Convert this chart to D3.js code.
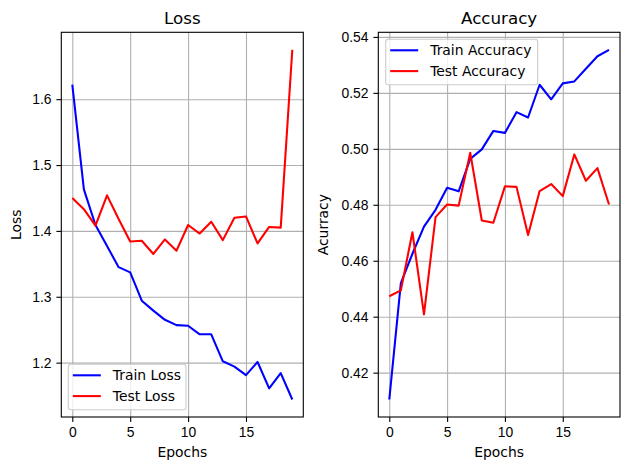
<!DOCTYPE html>
<html>
<head>
<meta charset="utf-8">
<script src="https://cdn.jsdelivr.net/npm/d3@7"></script>
<style>
  body { margin: 0; background: #fff; }
  svg { font-family: 'DejaVu Sans', sans-serif; }
  .grid line { stroke: #b0b0b0; stroke-width: 1.1; }
  .grid path { display: none; }
  .ax path, .ax line { stroke: #000; stroke-width: 1.1; }
  .ax text { font-size: 13.9px; fill: #000; }
</style>
</head>
<body>
<svg id="fig"></svg>
<script>
const W = 629, H = 470;

// epochs
const epochs = [0,1,2,3,4,5,6,7,8,9,10,11,12,13,14,15,16,17,18,19];
// loss
const trainLoss = [1.622,1.463,1.409,1.377,1.345,1.337,1.294,1.279,1.265,1.257,1.256,1.243,1.243,1.202,1.194,1.181,1.201,1.161,1.184,1.144];
const testLoss  = [1.450,1.433,1.408,1.454,1.418,1.384,1.385,1.365,1.387,1.370,1.409,1.396,1.414,1.386,1.420,1.422,1.381,1.406,1.405,1.675];
// accuracy
const trainAcc = [0.4104,0.4520,0.4625,0.4722,0.4782,0.4861,0.4848,0.4964,0.4998,0.5064,0.5057,0.5131,0.5112,0.5229,0.5177,0.5234,0.5241,0.5286,0.5331,0.5354];
const testAcc  = [0.4473,0.4494,0.4702,0.4408,0.4756,0.4801,0.4797,0.4986,0.4744,0.4736,0.4866,0.4864,0.4692,0.4849,0.4874,0.4831,0.4980,0.4886,0.4931,0.4801];

const xTicks = [0, 5, 10, 15];
const lossTicks = [1.2, 1.3, 1.4, 1.5, 1.6];
const accTicks = [0.42, 0.44, 0.46, 0.48, 0.50, 0.52, 0.54];

const svg = d3.select('#fig').attr('width', W).attr('height', H);

// matplotlib style 5% padding
function padded(arr) {
  let lo = d3.min(arr), hi = d3.max(arr), m = (hi - lo) * 0.05;
  return [lo - m, hi + m];
}

function panel(opt) {
  const x = d3.scaleLinear().domain(padded(epochs)).range([opt.left, opt.right]);
  const y = d3.scaleLinear().domain(padded(opt.series[0].v.concat(opt.series[1].v))).range([opt.bottom, opt.top]);

  // grid
  svg.append('g').attr('class', 'grid')
    .attr('transform', 'translate(0,' + opt.bottom + ')')
    .call(d3.axisBottom(x).tickValues(xTicks).tickSize(-(opt.bottom - opt.top)).tickFormat(''));
  svg.append('g').attr('class', 'grid')
    .attr('transform', 'translate(' + opt.left + ',0)')
    .call(d3.axisLeft(y).tickValues(opt.yTicks).tickSize(-(opt.right - opt.left)).tickFormat(''));

  // lines
  const line = v => d3.line().x((d, i) => x(epochs[i])).y(d => y(d))(v);
  opt.series.forEach(s => {
    svg.append('path')
      .attr('d', line(s.v))
      .attr('fill', 'none')
      .attr('stroke', s.c)
      .attr('stroke-width', 2.08)
      .attr('stroke-linejoin', 'round');
  });

  // frame
  svg.append('rect')
    .attr('x', opt.left).attr('y', opt.top)
    .attr('width', opt.right - opt.left).attr('height', opt.bottom - opt.top)
    .attr('fill', 'none').attr('stroke', '#000').attr('stroke-width', 1.1);

  // axes
  const ax = svg.append('g').attr('class', 'ax')
    .attr('transform', 'translate(0,' + opt.bottom + ')')
    .call(d3.axisBottom(x).tickValues(xTicks).tickSize(4.9).tickPadding(4.9).tickFormat(d3.format('d')));
  ax.select('.domain').remove();
  const ay = svg.append('g').attr('class', 'ax')
    .attr('transform', 'translate(' + opt.left + ',0)')
    .call(d3.axisLeft(y).tickValues(opt.yTicks).tickSize(4.9).tickPadding(4.9).tickFormat(opt.fmt));
  ay.select('.domain').remove();

  // title and labels
  svg.append('text')
    .attr('x', (opt.left + opt.right) / 2).attr('y', opt.top - 8)
    .attr('text-anchor', 'middle').attr('font-size', '16.7px')
    .text(opt.title);
  svg.append('text')
    .attr('x', (opt.left + opt.right) / 2).attr('y', 457)
    .attr('text-anchor', 'middle').attr('font-size', '13.9px')
    .text('Epochs');
  svg.append('text')
    .attr('transform', 'translate(' + opt.ylabX + ',' + (opt.top + opt.bottom) / 2 + ') rotate(-90)')
    .attr('text-anchor', 'middle').attr('font-size', '13.9px')
    .text(opt.ylabel);

  // legend
  const lg = svg.append('g').attr('transform', 'translate(' + opt.legX + ',' + opt.legY + ')');
  lg.append('rect')
    .attr('width', opt.legW).attr('height', 45.5).attr('rx', 2.5)
    .attr('fill', 'rgba(255,255,255,0.8)').attr('stroke', '#cccccc').attr('stroke-width', 1.1);
  opt.series.forEach((s, i) => {
    const cy = 11 + i * 20.8;
    lg.append('line').attr('x1', 4.5).attr('x2', 32.5).attr('y1', cy).attr('y2', cy)
      .attr('stroke', s.c).attr('stroke-width', 2.08);
    lg.append('text').attr('x', 44.5).attr('y', cy + 5)
      .attr('font-size', '13.9px').text(s.name);
  });
}

panel({
  left: 61.3, right: 303.3, top: 32.3, bottom: 417,
  title: 'Loss', ylabel: 'Loss', ylabX: 21, yTicks: lossTicks, fmt: d3.format('.1f'),
  series: [{v: trainLoss, c: 'blue', name: 'Train Loss'}, {v: testLoss, c: 'red', name: 'Test Loss'}],
  legX: 68.3, legY: 364.3, legW: 117.7
});

panel({
  left: 378.3, right: 620, top: 32.3, bottom: 417,
  title: 'Accuracy', ylabel: 'Acurracy', ylabX: 328, yTicks: accTicks, fmt: d3.format('.2f'),
  series: [{v: trainAcc, c: 'blue', name: 'Train Accuracy'}, {v: testAcc, c: 'red', name: 'Test Accuracy'}],
  legX: 385.7, legY: 39.3, legW: 152
});
</script>
</body>
</html>
